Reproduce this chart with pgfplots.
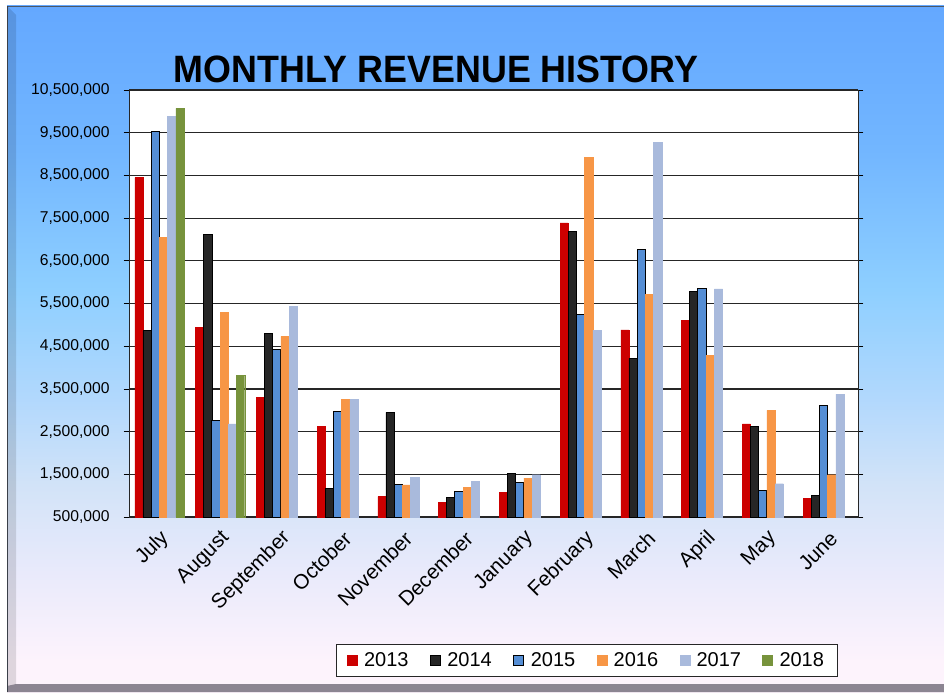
\documentclass[border=0pt]{standalone}
\usepackage{pgfplots}
\pgfplotsset{compat=1.18}
\usepackage{fontspec}
\setmainfont{Liberation Sans}
\usepackage{graphicx}

\definecolor{bgA}{HTML}{FDF3FC}
\definecolor{bgB}{HTML}{E9EAFB}
\definecolor{bgC}{HTML}{D2E3F8}
\definecolor{bgD}{HTML}{B1D8FD}
\definecolor{bgE}{HTML}{8ECFFF}
\definecolor{bgF}{HTML}{72B6FF}
\definecolor{bgG}{HTML}{64A8FF}
\definecolor{bandgray}{HTML}{8C8592}
\definecolor{topline}{HTML}{4C5866}
\definecolor{leftline}{HTML}{3A3F48}
\pgfdeclareverticalshading{bgshade}{100bp}{color(0bp)=(bgA); color(25bp)=(bgA); color(27.3bp)=(bgA); color(33.7bp)=(bgB); color(40.1bp)=(bgC); color(46.5bp)=(bgD); color(54.3bp)=(bgE); color(64.5bp)=(bgF); color(75bp)=(bgG); color(100bp)=(bgG)}

\definecolor{c13}{HTML}{CC0000}
\definecolor{c14}{HTML}{262626}
\definecolor{c15}{HTML}{558ED5}
\definecolor{c16}{HTML}{F79646}
\definecolor{c17}{HTML}{A9BADC}
\definecolor{c18}{HTML}{77933C}

\begin{document}
\begin{tikzpicture}
\begin{scope}[x=0.75pt,y=-0.75pt]
  \path[use as bounding box] (0,0) rectangle (944,692);
  \fill[white] (0,0) rectangle (944,692);
  \shade[shading=bgshade] (7,6) rectangle (944,692);
  % left bevel
  \fill[black,opacity=0.12] (7,6) -- (16,15) -- (16,684) -- (7,692) -- cycle;
  % bottom band
  \fill[bandgray] (7,686) -- (16,684) -- (944,684) -- (944,692) -- (7,692) -- cycle;
  \draw[topline, line width=1.2pt] (7,6.5) -- (944,6.5);
  \draw[leftline, line width=0.9pt] (7.5,6) -- (7.5,692);
  \node[anchor=base, font=\bfseries\fontsize{28.6}{32}\selectfont] at (436,82) {\scalebox{0.94}[1]{MONTHLY REVENUE HISTORY}};
\end{scope}
\begin{axis}[
  at={(96.75pt,-387.75pt)}, anchor=south west,
  scale only axis, width=546.75pt, height=320.25pt,
  ybar=0pt, bar width=0.135,
  xmin=-0.5, xmax=11.5,
  ymin=500000, ymax=10500000,
  scaled y ticks=false,
  xtick={0,...,11},
  xticklabels={July,August,September,October,November,December,January,February,March,April,May,June},
  xtick style={draw=none},
  minor xtick={-0.5,0.5,1.5,2.5,3.5,4.5,5.5,6.5,7.5,8.5,9.5,10.5,11.5},
  minor x tick style={black, line width=0.6pt},
  minor tick length=4.5pt,
  ytick={500000,1500000,2500000,3500000,4500000,5500000,6500000,7500000,8500000,9500000,10500000},
  yticklabels={{500,000},{1,500,000},{2,500,000},{3,500,000},{4,500,000},{5,500,000},{6,500,000},{7,500,000},{8,500,000},{9,500,000},{10,500,000}},
  ytick style={black, line width=0.6pt},
  major tick length=4pt,
  tick align=outside,
  ymajorgrids,
  major grid style={black!85, line width=0.9pt},
  axis line style={black!85, line width=0.75pt},
  axis background/.style={fill=white},
  yticklabel style={font=\fontsize{11.75}{13}\selectfont, text=black, xshift=-7pt},
  xticklabel style={font=\fontsize{15.5}{17}\selectfont, rotate=45, anchor=east, text=black, xshift=0pt, yshift=-10pt},
  legend columns=6,
  legend style={at={(0.628,-0.336)}, anchor=center, draw=black!85, line width=0.75pt, fill=white,
    font=\fontsize{15}{18}\selectfont, inner xsep=8pt, inner ysep=4pt,
    /tikz/every odd column/.append style={column sep=3pt},
    /tikz/every even column/.append style={column sep=14pt}},
  mylegend/.style={legend image code/.code={\fill[##1] (0pt,-3.8pt) rectangle (7.5pt,3.8pt);}},
]
\addplot[fill=c13, draw=c13, line width=0.3pt, mylegend] coordinates {(0,8450000) (1,4940000) (2,3300000) (3,2625000) (4,980000) (5,850000) (6,1070000) (7,7390000) (8,4880000) (9,5110000) (10,2680000) (11,940000)};
\addplot[fill=c14, draw=black, line width=0.6pt, mylegend] coordinates {(0,4860000) (1,7120000) (2,4790000) (3,1160000) (4,2950000) (5,960000) (6,1530000) (7,7180000) (8,4220000) (9,5780000) (10,2630000) (11,1010000)};
\addplot[fill=c15, draw=black, line width=0.75pt, mylegend] coordinates {(0,9520000) (1,2750000) (2,4420000) (3,2960000) (4,1270000) (5,1090000) (6,1300000) (7,5240000) (8,6770000) (9,5840000) (10,1130000) (11,3120000)};
\addplot[fill=c16, draw=c16, line width=0.3pt, mylegend] coordinates {(0,7050000) (1,5290000) (2,4730000) (3,3260000) (4,1250000) (5,1190000) (6,1410000) (7,8920000) (8,5720000) (9,4280000) (10,3000000) (11,1490000)};
\addplot[fill=c17, draw=c17, line width=0.3pt, mylegend] coordinates {(0,9875000) (1,2680000) (2,5440000) (3,3250000) (4,1430000) (5,1330000) (6,1490000) (7,4875000) (8,9280000) (9,5840000) (10,1280000) (11,3375000)};
\addplot[fill=c18, draw=c18, line width=0.3pt, mylegend] coordinates {(0,10070000) (1,3810000)};
\legend{2013,2014,2015,2016,2017,2018}
\end{axis}
\end{tikzpicture}
\end{document}
